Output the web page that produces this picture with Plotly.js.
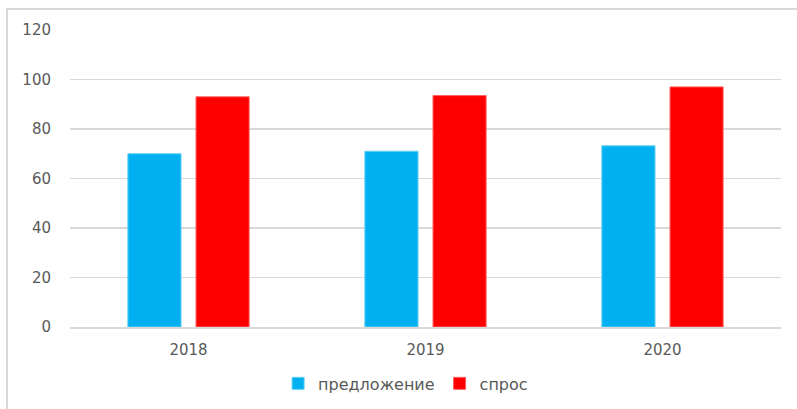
<!DOCTYPE html>
<html>
<head>
<meta charset="utf-8">
<script src="https://cdn.plot.ly/plotly-3.0.1.min.js"></script>
<style>
  html, body { margin: 0; padding: 0; background: #fff; }
  #wrap { position: relative; width: 797px; height: 409px; overflow: hidden; }
  #chart { position: absolute; left: 0; top: 0; width: 797px; height: 409px; }
  #frame { position: absolute; left: 6px; top: 8px; width: 810px; height: 430px;
           border: 2px solid #d9d9d9; pointer-events: none; box-sizing: border-box; }
</style>
</head>
<body>
<div id="wrap">
  <div id="chart"></div>
  <div id="frame"></div>
</div>
<script>
const categories = ['2018', '2019', '2020'];
const supply = [70, 71, 73.2];
const demand = [93, 93.5, 97];
const seriesNames = ['предложение', 'спрос'];
const yTicks = [0, 20, 40, 60, 80, 100, 120];

const font = { family: 'DejaVu Sans, sans-serif', size: 15, color: '#595959' };
const legendFont = { family: 'DejaVu Sans, sans-serif', size: 16, color: '#595959' };

const traces = [
  { type: 'bar', name: seriesNames[0], x: categories, y: supply,
    marker: { color: '#00B0F0', line: { color: '#5fd0f5', width: 1 } }, hoverinfo: 'y' },
  { type: 'bar', name: seriesNames[1], x: categories, y: demand,
    marker: { color: '#FF0000', line: { color: '#ff6060', width: 1 } }, hoverinfo: 'y' }
];

const layout = {
  width: 797, height: 409,
  margin: { l: 70, r: 16, t: 30, b: 82, autoexpand: false },
  paper_bgcolor: 'rgba(0,0,0,0)', plot_bgcolor: '#fff',
  font: font,
  barmode: 'group', bargap: 0.425, bargroupgap: 0.22,
  showlegend: true,
  legend: { orientation: 'h', x: 0.472, xanchor: 'center', y: -0.19, yanchor: 'middle',
            font: legendFont, itemwidth: 30, traceorder: 'normal' },
  xaxis: { type: 'category', showgrid: false, zeroline: false, showline: true,
           linecolor: '#d9d9d9', linewidth: 1.5, ticks: '', tickfont: font, ticklabelstandoff: 8 },
  yaxis: { range: [0, 120], tickvals: yTicks, ticktext: yTicks.map(String),
           showgrid: true, gridcolor: '#d9d9d9', gridwidth: 1.5, zeroline: false,
           showline: false, ticks: '', tickfont: font, ticklabelstandoff: 18 }
};

Plotly.newPlot('chart', traces, layout, { displayModeBar: false, staticPlot: true });
</script>
</body>
</html>
